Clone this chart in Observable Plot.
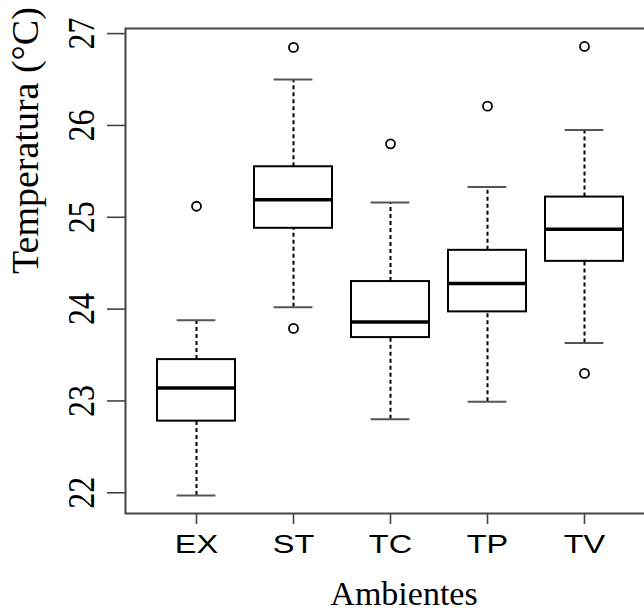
<!DOCTYPE html>
<html><head><meta charset="utf-8">
<script src="https://cdn.jsdelivr.net/npm/d3@7"></script>
<script src="https://cdn.jsdelivr.net/npm/@observablehq/plot@0.6"></script>
<style>
html,body{margin:0;padding:0;background:#fff;overflow:hidden}
#chart{width:644px;height:612px;overflow:hidden}
</style></head><body><div id="chart"></div>
<script>
const categories   = ["EX", "ST", "TC", "TP", "TV"];
const lowerWhisker = [21.97, 24.02, 22.80, 22.99, 23.63];
const quartile1    = [22.78, 24.88, 23.69, 23.97, 24.52];
const medians      = [23.14, 25.19, 23.86, 24.28, 24.87];
const quartile3    = [23.45, 25.55, 24.30, 24.64, 25.22];
const upperWhisker = [23.88, 26.50, 25.16, 25.33, 25.95];
const outlierGroup = ["EX", "ST", "ST", "TC", "TP", "TV", "TV"];
const outlierValue = [25.12, 26.85, 23.79, 25.80, 26.21, 26.86, 23.30];
const yTicks = [22, 23, 24, 25, 26, 27];
const xTitle = "Ambientes";
const yTitle = "Temperatura (°C)";

const boxes = categories.map((c, i) => ({
  group: c, lo: lowerWhisker[i], q1: quartile1[i], med: medians[i], q3: quartile3[i], hi: upperWhisker[i]
}));
const outliers = outlierGroup.map((g, i) => ({group: g, value: outlierValue[i]}));
const [vmin, vmax] = d3.extent([...lowerWhisker, ...upperWhisker, ...outlierValue]);
const pad = (vmax - vmin) * 0.04;

const serif = "'Liberation Serif', 'Times New Roman', serif";
const sans = "'Liberation Sans', Arial, sans-serif";

const chart = Plot.plot({
  width: 644, height: 612,
  marginLeft: 125, marginTop: 28, marginBottom: 99, marginRight: -10,
  style: {background: "#fff", color: "#000", fontFamily: serif, overflow: "hidden"},
  x: {type: "band", domain: categories, paddingInner: 0.2, paddingOuter: 0.3},
  y: {domain: [vmin - pad, vmax + pad]},
  marks: [
    Plot.ruleX(boxes, {x: "group", y1: "q3", y2: "hi", stroke: "#000", strokeWidth: 2, strokeDasharray: "4,3"}),
    Plot.ruleX(boxes, {x: "group", y1: "lo", y2: "q1", stroke: "#000", strokeWidth: 2, strokeDasharray: "4,3"}),
    Plot.tickY(boxes, {x: "group", y: "hi", stroke: "#555", strokeWidth: 2, insetLeft: 19.6, insetRight: 19.6}),
    Plot.tickY(boxes, {x: "group", y: "lo", stroke: "#555", strokeWidth: 2, insetLeft: 19.6, insetRight: 19.6}),
    Plot.barY(boxes, {x: "group", y1: "q1", y2: "q3", fill: "#fff", stroke: "#000", strokeWidth: 2}),
    Plot.tickY(boxes, {x: "group", y: "med", stroke: "#000", strokeWidth: 3.5}),
    Plot.dot(outliers, {x: "group", y: "value", r: 4.5, stroke: "#000", strokeWidth: 1.8, fill: "none"}),
    Plot.frame({stroke: "#444", strokeWidth: 2}),
    Plot.axisY({ticks: yTicks, tickFormat: d3.format("d"), tickSize: 18, tickPadding: 14, tickRotate: -90, fontSize: 32, fontFamily: serif, label: null, stroke: "#444", strokeWidth: 1.6, fill: "#000"}),
    Plot.axisX({tickSize: 11, tickPadding: 10, fontSize: 26, fontFamily: sans, label: null, stroke: "#444", strokeWidth: 1.6, fill: "#000"}),
    Plot.text([xTitle], {text: d => d, frameAnchor: "bottom", dx: 14, dy: 81, lineAnchor: "middle", fontSize: 34, fontFamily: serif, fill: "#000"}),
    Plot.text([yTitle], {text: d => d, frameAnchor: "left", dx: -100, dy: 3, rotate: -90, lineAnchor: "middle", fontSize: 38, fontFamily: serif, fill: "#000"})
  ]
});
// horizontal stretch of tick labels, as in the reference picture
function stretch(selector, scale) {
  chart.querySelectorAll(selector).forEach(t => {
    const tr = t.getAttribute("transform");
    if (tr && tr.startsWith("translate")) t.setAttribute("transform", tr + " " + scale);
  });
}
stretch('g[aria-label="x-axis tick label"] text', "scale(1.25,1)");
stretch('g[aria-label="y-axis tick label"] text', "scale(1,1.2)");
document.getElementById("chart").append(chart);
</script>
</body></html>
